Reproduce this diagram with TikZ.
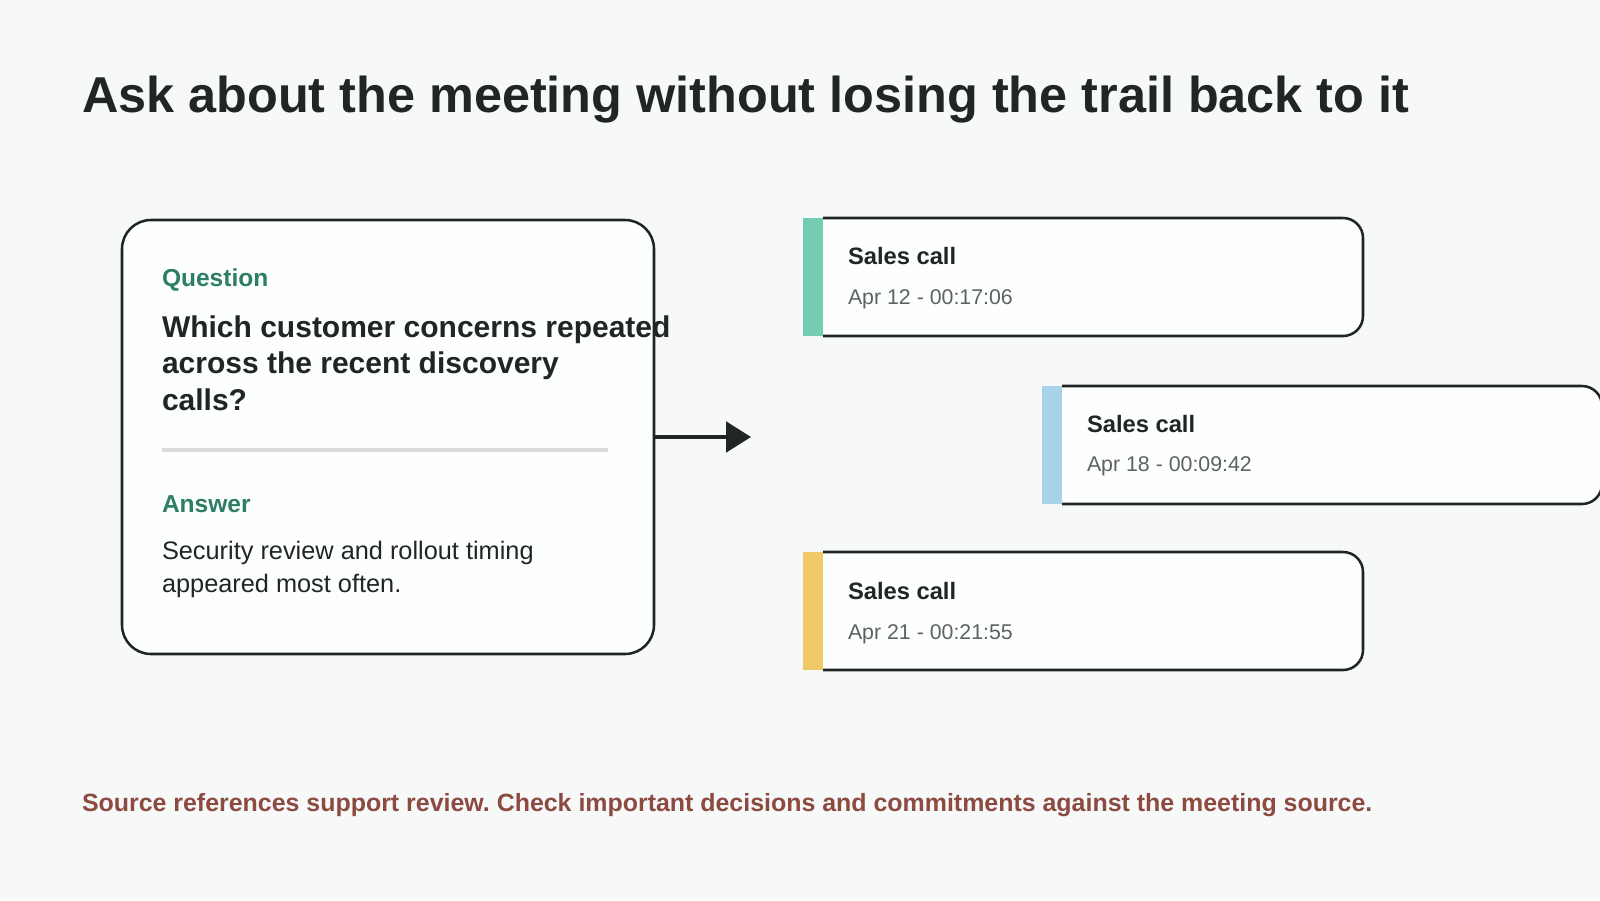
\documentclass[tikz,border=0pt]{standalone}
\usepackage{fontspec}
\setmainfont{Liberation Sans}
\usetikzlibrary{arrows.meta}
\frenchspacing
\definecolor{bg}{HTML}{F7F9F9}
\definecolor{cardfill}{HTML}{FDFEFE}
\definecolor{ink}{HTML}{222526}
\definecolor{teallabel}{HTML}{2E7D67}
\definecolor{divider}{HTML}{D9DBDB}
\definecolor{dategray}{HTML}{5F6262}
\definecolor{footer}{HTML}{8C4A40}
\definecolor{barteal}{HTML}{74CDB3}
\definecolor{barblue}{HTML}{A7D3EA}
\definecolor{baryellow}{HTML}{F0CA66}
\tikzset{
  txt/.style={inner sep=0pt, outer sep=0pt, anchor=base west, text=ink},
  titlefont/.style={txt, font=\fontsize{37.8}{45}\selectfont\bfseries},
  labelfont/.style={txt, text=teallabel, font=\fontsize{18.4}{22}\selectfont\bfseries},
  qfont/.style={txt, font=\fontsize{22.5}{27.75}\selectfont\bfseries},
  afont/.style={txt, font=\fontsize{19}{24.75}\selectfont},
  callfont/.style={txt, font=\fontsize{17.8}{21}\selectfont\bfseries},
  datefont/.style={txt, text=dategray, font=\fontsize{16}{19}\selectfont},
  footfont/.style={txt, text=footer, font=\fontsize{18.7}{22}\selectfont\bfseries},
  qacard/.style={draw=ink, line width=1.9pt, fill=cardfill, rounded corners=21.75pt,
    minimum width=399pt, minimum height=325.5pt, inner sep=0pt, outer sep=0pt},
  callcard/.style={fill=cardfill, rounded corners=15pt, minimum width=420pt,
    minimum height=88.5pt, inner sep=0pt, outer sep=0pt, anchor=north west},
  cardline/.style={draw=ink, line width=1.9pt, rounded corners=15pt},
  link/.style={draw=ink, line width=2.4pt, -{Triangle[length=18.75pt, width=23pt]}},
}
\begin{document}
\begin{tikzpicture}[x=0.75pt,y=-0.75pt]
\useasboundingbox (0,0) rectangle (1600,900);
\fill[bg] (0,0) rectangle (1600,900);
\clip (0,0) rectangle (1600,900);

% title
\node[titlefont] (title) at (82,112) {Ask about the meeting without losing the trail back to it};

% question / answer card
\node[qacard] (qa) at (388,437) {};
\node[labelfont] (qlabel) at (162,286) {Question};
\node[qfont] (q1) at (162,337) {Which customer concerns repeated};
\node[qfont] (q2) at (162,373) {across the recent discovery};
\node[qfont] (q3) at (162,410) {calls?};
\coordinate (divL) at (162,450);
\coordinate (divR) at (608,450);
\draw[divider, line width=2.7pt] (divL) -- (divR);
\node[labelfont] (alabel) at (162,512) {Answer};
\node[afont] (a1) at (162,559) {Security review and rollout timing};
\node[afont] (a2) at (162,592) {appeared most often.};

% arrow
\coordinate (arrowend) at (751,437);
\draw[link] (qa.east) -- (arrowend);

% call cards
\node[callcard] (c1) at (803,218) {};
\fill[barteal] (c1.north west) rectangle ([xshift=15pt]c1.south west);
\draw[cardline] ([xshift=15pt]c1.north west) -- (c1.north east) -- (c1.south east) -- ([xshift=15pt]c1.south west);
\node[callfont] (c1t) at (848,264) {Sales call};
\node[datefont] (c1d) at (848,304) {Apr 12 - 00:17:06};

\node[callcard] (c2) at (1042,386) {};
\fill[barblue] (c2.north west) rectangle ([xshift=15pt]c2.south west);
\draw[cardline] ([xshift=15pt]c2.north west) -- (c2.north east) -- (c2.south east) -- ([xshift=15pt]c2.south west);
\node[callfont] (c2t) at (1087,432) {Sales call};
\node[datefont] (c2d) at (1087,471) {Apr 18 - 00:09:42};

\node[callcard] (c3) at (803,552) {};
\fill[baryellow] (c3.north west) rectangle ([xshift=15pt]c3.south west);
\draw[cardline] ([xshift=15pt]c3.north west) -- (c3.north east) -- (c3.south east) -- ([xshift=15pt]c3.south west);
\node[callfont] (c3t) at (848,599) {Sales call};
\node[datefont] (c3d) at (848,639) {Apr 21 - 00:21:55};

% footer
\node[footfont] (foot) at (82,811) {Source references support review. Check important decisions and commitments against the meeting source.};
\end{tikzpicture}
\end{document}
